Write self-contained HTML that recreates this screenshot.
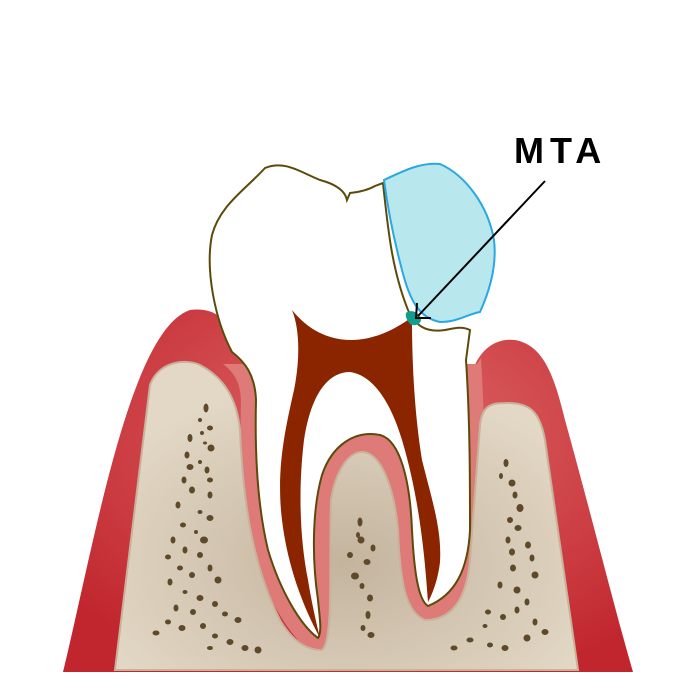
<!DOCTYPE html>
<html><head><meta charset="utf-8"><style>
html,body{margin:0;padding:0;background:#fff;width:700px;height:700px;overflow:hidden}
</style></head><body>
<svg width="700" height="700" viewBox="0 0 700 700" xmlns="http://www.w3.org/2000/svg">
<defs>
<radialGradient id="gl" cx="0.55" cy="0.35" r="0.7"><stop offset="0" stop-color="#de6868"/><stop offset="1" stop-color="#c1262e"/></radialGradient>
<radialGradient id="bn" cx="0.5" cy="0.65" r="0.6"><stop offset="0" stop-color="#c4b49e"/><stop offset="1" stop-color="#e3d8c6"/></radialGradient>
<clipPath id="gc"><path d="M63,672 L140,364 L477,364 L490,345 L560,400 L633,672 Z"/></clipPath>
<path id="tooth" d="M232,352 C215,320 205,270 212,235 C220,205 245,190 265,168 C285,160 300,172 320,180 C335,184 345,190 347,200 L350,193 C360,192 368,190 375,186 L383,183 C388,230 392,270 408,310 C415,325 425,333 445,330 C455,328 462,326 470,330 L466,360 C470,420 470,480 470,530 C468,570 455,595 428,606 C418,600 414,570 412,530 C410,480 400,440 380,435 C355,430 332,445 322,475 C312,510 312,560 318,600 C320,620 322,632 318,638 C300,625 280,590 268,550 C256,500 255,440 256,400 C255,375 245,362 232,352 Z"/>
</defs>
<!-- gum -->
<path d="M63,672 C95,540 130,330 190,310 C225,305 240,335 250,380 L470,380 C478,345 500,338 515,340 C545,345 555,380 565,420 C590,510 615,610 633,672 Z" fill="url(#gl)"/>
<path d="M318,645 L325,450 L380,425 L420,612 Z" fill="#de7a78"/>
<!-- pink periodontal -->
<g clip-path="url(#gc)"><use href="#tooth" fill="#de7a78" stroke="#de7a78" stroke-width="30" stroke-linejoin="round"/></g>
<!-- bone -->
<path d="M115,670 L150,385 C158,362 185,358 200,365 C225,378 237,400 240,430 C243,500 252,565 280,620 C292,640 305,650 322,650 C334,640 329,560 331,500 C336,468 350,452 362,452 C380,452 394,485 398,530 C400,580 405,612 425,620 C448,620 466,605 470,560 L480,425 C482,405 492,403 505,403 C530,402 540,412 545,440 L578,670 Z" fill="url(#bn)" stroke="#c9b29a" stroke-width="2"/>
<g fill="#5e4a2a">
<ellipse cx="206" cy="408" rx="2.5" ry="4.5"/><ellipse cx="200" cy="420" rx="2" ry="2"/><ellipse cx="210" cy="428" rx="3" ry="2.5"/><ellipse cx="202" cy="433" rx="2" ry="2"/><ellipse cx="190" cy="438" rx="2.5" ry="4"/><ellipse cx="205" cy="443" rx="2" ry="1.5"/><ellipse cx="211" cy="448" rx="3.5" ry="3.5"/><ellipse cx="187" cy="455" rx="2.5" ry="3.5"/><ellipse cx="200" cy="462" rx="2" ry="2"/><ellipse cx="190" cy="467" rx="3.5" ry="3"/><ellipse cx="207" cy="470" rx="2.5" ry="3.5"/><ellipse cx="184" cy="480" rx="2.5" ry="3.5"/><ellipse cx="210" cy="480" rx="3" ry="2.5"/><ellipse cx="192" cy="490" rx="3" ry="3.5"/><ellipse cx="210" cy="495" rx="2.5" ry="3.5"/><ellipse cx="178" cy="505" rx="2.5" ry="3.5"/><ellipse cx="200" cy="512" rx="2.5" ry="2"/><ellipse cx="210" cy="518" rx="3.5" ry="3"/><ellipse cx="183" cy="525" rx="3" ry="2.5"/><ellipse cx="196" cy="532" rx="2" ry="2"/><ellipse cx="204" cy="540" rx="4" ry="3.5"/><ellipse cx="173" cy="540" rx="2.5" ry="3.5"/><ellipse cx="185" cy="550" rx="2.5" ry="3.5"/><ellipse cx="200" cy="555" rx="3" ry="3"/><ellipse cx="168" cy="557" rx="3" ry="2.5"/><ellipse cx="180" cy="568" rx="3" ry="2.5"/><ellipse cx="210" cy="568" rx="2.5" ry="3.5"/><ellipse cx="192" cy="575" rx="3" ry="3"/><ellipse cx="170" cy="582" rx="2.5" ry="3.5"/><ellipse cx="218" cy="580" rx="3.5" ry="3.5"/><ellipse cx="185" cy="592" rx="2.5" ry="2"/><ellipse cx="200" cy="598" rx="3.5" ry="3"/><ellipse cx="215" cy="604" rx="3" ry="3"/><ellipse cx="176" cy="608" rx="2.5" ry="3.5"/><ellipse cx="193" cy="612" rx="3" ry="3"/><ellipse cx="225" cy="614" rx="3" ry="2.5"/><ellipse cx="168" cy="622" rx="3" ry="2.5"/><ellipse cx="182" cy="628" rx="3.5" ry="3"/><ellipse cx="203" cy="626" rx="3" ry="3"/><ellipse cx="238" cy="620" rx="3.5" ry="3"/><ellipse cx="156" cy="633" rx="3.5" ry="2.5"/><ellipse cx="215" cy="636" rx="3" ry="2.5"/><ellipse cx="230" cy="642" rx="3.5" ry="3"/><ellipse cx="245" cy="648" rx="3.5" ry="3"/><ellipse cx="258" cy="650" rx="3.5" ry="3.5"/><ellipse cx="210" cy="648" rx="3" ry="2"/>
<ellipse cx="360" cy="522" rx="2.5" ry="4.5"/><ellipse cx="358" cy="535" rx="2" ry="3"/><ellipse cx="361" cy="540" rx="3.5" ry="3.5"/><ellipse cx="350" cy="555" rx="3" ry="3"/><ellipse cx="373" cy="548" rx="2.5" ry="3.5"/><ellipse cx="367" cy="562" rx="3.5" ry="3"/><ellipse cx="355" cy="576" rx="4" ry="3.5"/><ellipse cx="362" cy="586" rx="2.5" ry="3"/><ellipse cx="370" cy="598" rx="3" ry="3.5"/><ellipse cx="368" cy="615" rx="2.5" ry="4"/><ellipse cx="363" cy="628" rx="2.5" ry="3"/><ellipse cx="371" cy="635" rx="3.5" ry="3"/>
<ellipse cx="506" cy="463" rx="2.5" ry="4"/><ellipse cx="501" cy="476" rx="2" ry="3"/><ellipse cx="512" cy="483" rx="3.5" ry="3.5"/><ellipse cx="515" cy="495" rx="2.5" ry="3.5"/><ellipse cx="520" cy="508" rx="3.5" ry="4"/><ellipse cx="510" cy="520" rx="3" ry="3"/><ellipse cx="518" cy="528" rx="3.5" ry="3"/><ellipse cx="508" cy="540" rx="2.5" ry="3.5"/><ellipse cx="528" cy="545" rx="3" ry="3.5"/><ellipse cx="512" cy="552" rx="3" ry="3.5"/><ellipse cx="532" cy="558" rx="2.5" ry="3.5"/><ellipse cx="513" cy="568" rx="3" ry="3.5"/><ellipse cx="535" cy="575" rx="3.5" ry="3.5"/><ellipse cx="500" cy="585" rx="2.5" ry="3.5"/><ellipse cx="517" cy="590" rx="3.5" ry="3.5"/><ellipse cx="527" cy="602" rx="2.5" ry="3.5"/><ellipse cx="488" cy="612" rx="3" ry="2.5"/><ellipse cx="503" cy="617" rx="3" ry="3"/><ellipse cx="517" cy="610" rx="2.5" ry="3.5"/><ellipse cx="485" cy="626" rx="2.5" ry="2"/><ellipse cx="545" cy="632" rx="3.5" ry="3"/><ellipse cx="470" cy="640" rx="3.5" ry="2.5"/><ellipse cx="490" cy="645" rx="3" ry="2.5"/><ellipse cx="505" cy="648" rx="3.5" ry="3"/><ellipse cx="527" cy="638" rx="3.5" ry="3.5"/><ellipse cx="454" cy="648" rx="3.5" ry="2.5"/><ellipse cx="535" cy="622" rx="2.5" ry="3.5"/>
</g>
<!-- tooth -->
<use href="#tooth" fill="#fff" stroke="#5c4a0a" stroke-width="2"/>
<!-- pulp -->
<path d="M292,310 C320,345 365,352 412,317 C412,360 414,410 422,460 C432,500 442,530 440,562 C438,580 432,595 428,602 C425,560 420,500 402,440 C390,400 372,375 350,372 C325,372 310,400 304,440 C298,490 300,540 308,580 C312,605 318,630 320,638 C305,610 288,570 282,520 C276,470 285,430 294,390 C300,360 300,330 292,310 Z" fill="#8b2500"/>
<!-- restoration -->
<path d="M384,180 C405,170 422,162 440,164 C465,175 488,205 494,240 C497,265 490,290 480,312 C468,314 458,322 440,322 C420,318 410,302 402,270 C394,240 388,210 384,180 Z" fill="#b8e8ee" stroke="#2aa8e0" stroke-width="2"/>
<path d="M406,313 C411,309 418,312 421,318 C422,324 415,327 410,324 C407,320 405,317 406,313 Z" fill="#0f9e8e"/>
<!-- arrow -->
<line x1="545" y1="181" x2="418" y2="316" stroke="#000" stroke-width="2"/>
<path d="M417,303 L416,318 L431,318" fill="none" stroke="#000" stroke-width="2"/>
<text x="514" y="163" font-family="Liberation Sans, sans-serif" font-weight="bold" font-size="36" fill="#000" letter-spacing="6">MTA</text>
</svg>
</body></html>
